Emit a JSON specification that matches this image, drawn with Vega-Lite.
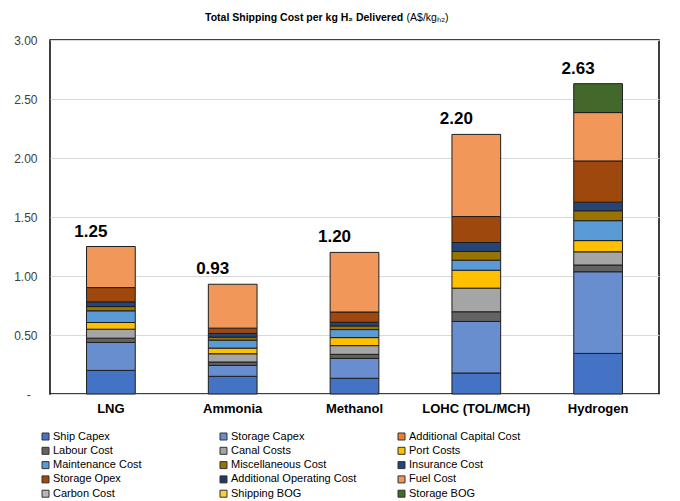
{
  "$schema": "https://vega.github.io/schema/vega-lite/v6.json",
  "width": 609,
  "height": 354,
  "autosize": {"type": "none"},
  "padding": {"left": 50, "top": 40, "right": 21, "bottom": 107},
  "background": "white",
  "title": {
    "text": "Total Shipping Cost per kg H\u2082 Delivered",
    "subtitle": "\u200b\u2003\u2003\u2003\u2003\u2003\u2003\u2003\u2003\u2003\u2003\u2003\u2003\u2003\u2003\u2003\u2003\u2003\u2003\u2003\u2009(A$/kg\u2095\u2082)",
    "anchor": "start",
    "frame": "group",
    "dx": 155,
    "offset": 11,
    "font": "Liberation Sans",
    "fontSize": 10.5,
    "fontWeight": "bold",
    "color": "#000000",
    "subtitleFont": "Liberation Sans",
    "subtitleFontSize": 10.5,
    "subtitleFontWeight": "normal",
    "subtitleColor": "#000000",
    "subtitlePadding": -10.5
  },
  "data": {
    "values": [
      {"fuel": "LNG", "cost": "Ship Capex", "v": 0.200},
      {"fuel": "LNG", "cost": "Storage Capex", "v": 0.237},
      {"fuel": "LNG", "cost": "Labour Cost", "v": 0.036},
      {"fuel": "LNG", "cost": "Canal Costs", "v": 0.076},
      {"fuel": "LNG", "cost": "Port Costs", "v": 0.057},
      {"fuel": "LNG", "cost": "Maintenance Cost", "v": 0.099},
      {"fuel": "LNG", "cost": "Miscellaneous Cost", "v": 0.036},
      {"fuel": "LNG", "cost": "Insurance Cost", "v": 0.040},
      {"fuel": "LNG", "cost": "Storage Opex", "v": 0.121},
      {"fuel": "LNG", "cost": "Fuel Cost", "v": 0.348},
      {"fuel": "Ammonia", "cost": "Ship Capex", "v": 0.150},
      {"fuel": "Ammonia", "cost": "Storage Capex", "v": 0.093},
      {"fuel": "Ammonia", "cost": "Labour Cost", "v": 0.028},
      {"fuel": "Ammonia", "cost": "Canal Costs", "v": 0.070},
      {"fuel": "Ammonia", "cost": "Port Costs", "v": 0.048},
      {"fuel": "Ammonia", "cost": "Maintenance Cost", "v": 0.068},
      {"fuel": "Ammonia", "cost": "Miscellaneous Cost", "v": 0.025},
      {"fuel": "Ammonia", "cost": "Insurance Cost", "v": 0.031},
      {"fuel": "Ammonia", "cost": "Storage Opex", "v": 0.045},
      {"fuel": "Ammonia", "cost": "Fuel Cost", "v": 0.372},
      {"fuel": "Methanol", "cost": "Ship Capex", "v": 0.133},
      {"fuel": "Methanol", "cost": "Storage Capex", "v": 0.169},
      {"fuel": "Methanol", "cost": "Labour Cost", "v": 0.034},
      {"fuel": "Methanol", "cost": "Canal Costs", "v": 0.074},
      {"fuel": "Methanol", "cost": "Port Costs", "v": 0.068},
      {"fuel": "Methanol", "cost": "Maintenance Cost", "v": 0.068},
      {"fuel": "Methanol", "cost": "Miscellaneous Cost", "v": 0.031},
      {"fuel": "Methanol", "cost": "Insurance Cost", "v": 0.031},
      {"fuel": "Methanol", "cost": "Storage Opex", "v": 0.087},
      {"fuel": "Methanol", "cost": "Fuel Cost", "v": 0.505},
      {"fuel": "LOHC (TOL/MCH)", "cost": "Ship Capex", "v": 0.178},
      {"fuel": "LOHC (TOL/MCH)", "cost": "Storage Capex", "v": 0.437},
      {"fuel": "LOHC (TOL/MCH)", "cost": "Labour Cost", "v": 0.082},
      {"fuel": "LOHC (TOL/MCH)", "cost": "Canal Costs", "v": 0.200},
      {"fuel": "LOHC (TOL/MCH)", "cost": "Port Costs", "v": 0.152},
      {"fuel": "LOHC (TOL/MCH)", "cost": "Maintenance Cost", "v": 0.085},
      {"fuel": "LOHC (TOL/MCH)", "cost": "Miscellaneous Cost", "v": 0.074},
      {"fuel": "LOHC (TOL/MCH)", "cost": "Insurance Cost", "v": 0.076},
      {"fuel": "LOHC (TOL/MCH)", "cost": "Storage Opex", "v": 0.220},
      {"fuel": "LOHC (TOL/MCH)", "cost": "Fuel Cost", "v": 0.696},
      {"fuel": "Hydrogen", "cost": "Ship Capex", "v": 0.344},
      {"fuel": "Hydrogen", "cost": "Storage Capex", "v": 0.692},
      {"fuel": "Hydrogen", "cost": "Labour Cost", "v": 0.057},
      {"fuel": "Hydrogen", "cost": "Canal Costs", "v": 0.112},
      {"fuel": "Hydrogen", "cost": "Port Costs", "v": 0.095},
      {"fuel": "Hydrogen", "cost": "Maintenance Cost", "v": 0.169},
      {"fuel": "Hydrogen", "cost": "Miscellaneous Cost", "v": 0.084},
      {"fuel": "Hydrogen", "cost": "Insurance Cost", "v": 0.073},
      {"fuel": "Hydrogen", "cost": "Storage Opex", "v": 0.349},
      {"fuel": "Hydrogen", "cost": "Fuel Cost", "v": 0.410},
      {"fuel": "Hydrogen", "cost": "Storage BOG", "v": 0.245}
    ]
  },
  "config": {
    "view": {"stroke": "#000000", "strokeWidth": 1.5},
    "font": "Liberation Sans"
  },
  "layer": [
    {
      "transform": [
        {"calculate": "indexof(['Ship Capex','Storage Capex','Additional Capital Cost','Labour Cost','Canal Costs','Port Costs','Maintenance Cost','Miscellaneous Cost','Insurance Cost','Storage Opex','Additional Operating Cost','Fuel Cost','Carbon Cost','Shipping BOG','Storage BOG'], datum.cost)", "as": "k"}
      ],
      "mark": {"type": "bar", "stroke": "#1e1e1e", "strokeWidth": 1},
      "encoding": {
        "x": {
          "field": "fuel",
          "type": "nominal",
          "sort": ["LNG", "Ammonia", "Methanol", "LOHC (TOL/MCH)", "Hydrogen"],
          "scale": {"paddingInner": 0.6, "paddingOuter": 0.3},
          "axis": {
            "title": null,
            "labelAngle": 0,
            "labelFont": "Liberation Sans",
            "labelFontSize": 13,
            "labelFontWeight": "bold",
            "labelColor": "#000000",
            "labelPadding": 8,
            "ticks": false,
            "domain": false
          }
        },
        "y": {
          "field": "v",
          "type": "quantitative",
          "stack": "zero",
          "scale": {"domain": [0, 3], "nice": false},
          "axis": {
            "title": null,
            "values": [0, 0.5, 1, 1.5, 2, 2.5, 3],
            "labelExpr": "datum.value == 0 ? '-\u00a0\u00a0\u200b' : format(datum.value, '.2f')",
            "labelFont": "Liberation Sans",
            "labelFontSize": 12,
            "labelColor": "#404040",
            "labelPadding": 13,
            "ticks": false,
            "domain": false,
            "grid": true,
            "gridColor": "#d9d9d9",
            "gridWidth": 1
          }
        },
        "color": {
          "field": "cost",
          "type": "nominal",
          "scale": {
            "domain": ["Ship Capex", "Storage Capex", "Additional Capital Cost", "Labour Cost", "Canal Costs", "Port Costs", "Maintenance Cost", "Miscellaneous Cost", "Insurance Cost", "Storage Opex", "Additional Operating Cost", "Fuel Cost", "Carbon Cost", "Shipping BOG", "Storage BOG"],
            "range": ["#4472C4", "#698ED0", "#ED7D31", "#636363", "#A5A5A5", "#FFC000", "#5B9BD5", "#997300", "#264478", "#9E480E", "#203864", "#F1975A", "#B7B7B7", "#FFCD33", "#43682B"]
          },
          "legend": {
            "title": null,
            "orient": "none",
            "legendX": -10,
            "legendY": 391,
            "direction": "horizontal",
            "columns": 3,
            "gridAlign": "all",
            "columnPadding": 39,
            "rowPadding": 2.3,
            "symbolType": "square",
            "symbolSize": 49,
            "symbolStrokeWidth": 1,
            "symbolStrokeColor": "#333333",
            "labelFont": "Liberation Sans",
            "labelFontSize": 11,
            "labelColor": "#000000",
            "labelOffset": 2,
            "labelLimit": 300
          }
        },
        "order": {"field": "k", "type": "quantitative", "sort": "ascending"}
      }
    },
    {
      "transform": [
        {"aggregate": [{"op": "sum", "field": "v", "as": "total"}], "groupby": ["fuel"]}
      ],
      "mark": {"type": "text", "dx": -20, "dy": -15, "baseline": "middle", "font": "Liberation Sans", "fontSize": 17, "fontWeight": "bold", "color": "#000000"},
      "encoding": {
        "x": {"field": "fuel", "type": "nominal", "sort": ["LNG", "Ammonia", "Methanol", "LOHC (TOL/MCH)", "Hydrogen"]},
        "y": {"field": "total", "type": "quantitative"},
        "text": {"field": "total", "type": "quantitative", "format": ".2f"}
      }
    }
  ]
}
